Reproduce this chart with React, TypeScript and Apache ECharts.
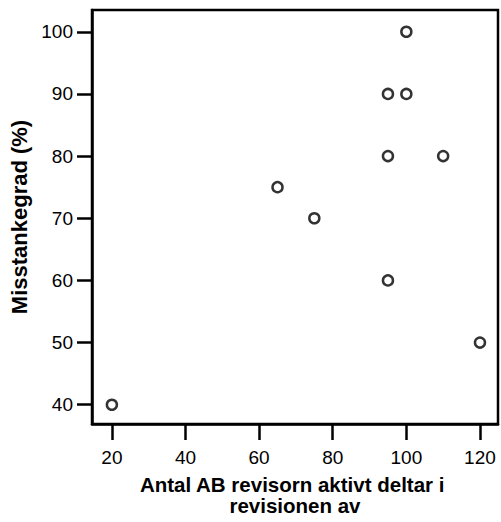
import React, { useEffect, useRef } from "react";
import * as echarts from "echarts";

const xTicks = [20, 40, 60, 80, 100, 120];
const yTicks = [40, 50, 60, 70, 80, 90, 100];
const xValues = [20, 65, 75, 95, 95, 95, 100, 100, 110, 120];
const yValues = [40, 75, 70, 60, 80, 90, 90, 100, 80, 50];
const xTitle = "Antal AB revisorn aktivt deltar i \nrevisionen av";
const yTitle = "Misstankegrad (%)";

export default function App() {
  const ref = useRef<HTMLDivElement>(null);
  useEffect(() => {
    if (!ref.current) return;
    const chart = echarts.init(ref.current, null, { renderer: "svg" });
    const font = "Liberation Sans, Arial, sans-serif";
    chart.setOption({
      animation: false,
      grid: {
        left: 92,
        top: 10,
        right: 3,
        bottom: 98,
        show: true,
        borderColor: "#000",
        borderWidth: 2.5,
        backgroundColor: "transparent",
      },
      xAxis: {
        type: "value",
        min: 14.6,
        max: 124.9,
        name: xTitle,
        nameLocation: "middle",
        nameGap: 50,
        nameTextStyle: {
          fontFamily: font,
          fontWeight: "bold",
          fontSize: 20.5,
          color: "#000",
          lineHeight: 21,
        },
        axisLine: { show: true, lineStyle: { color: "#000", width: 2.5 } },
        axisTick: {
          show: true,
          length: 16,
          inside: false,
          lineStyle: { color: "#000", width: 2.5 },
          customValues: xTicks,
        },
        axisLabel: {
          fontFamily: font,
          fontSize: 19,
          color: "#000",
          margin: 24,
          customValues: xTicks,
        },
        splitLine: { show: false },
      },
      yAxis: {
        type: "value",
        min: 36.9,
        max: 103.5,
        name: yTitle,
        nameLocation: "middle",
        nameGap: 57,
        nameRotate: 90,
        nameTextStyle: {
          fontFamily: font,
          fontWeight: "bold",
          fontSize: 22,
          color: "#000",
        },
        axisLine: { show: true, lineStyle: { color: "#000", width: 2.5 } },
        axisTick: {
          show: true,
          length: 15,
          inside: false,
          lineStyle: { color: "#000", width: 2.5 },
          customValues: yTicks,
        },
        axisLabel: {
          fontFamily: font,
          fontSize: 19,
          color: "#000",
          margin: 19,
          customValues: yTicks,
        },
        splitLine: { show: false },
      },
      series: [
        {
          type: "scatter",
          data: xValues.map((x, i) => [x, yValues[i]]),
          symbol: "circle",
          symbolSize: 10,
          itemStyle: { color: "#fff", borderColor: "#000", borderWidth: 2.5 },
        },
      ],
    });
    return () => chart.dispose();
  }, []);
  return (
    <div
      ref={ref}
      style={{ position: "absolute", left: 0, top: 0, width: 501, height: 522, background: "#fff" }}
    />
  );
}
